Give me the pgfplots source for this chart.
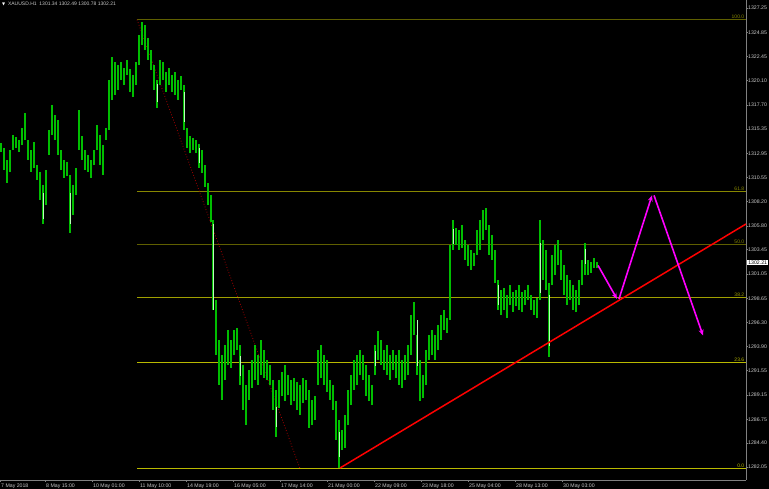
\documentclass[border=0pt]{standalone}
\usepackage{pgfplots}
\pgfplotsset{compat=1.18}
\usepackage{pgfplotstable}
\usepackage{fontspec}
\setmainfont{Liberation Sans}
\newfontfamily\symfont{DejaVu Sans}
\usetikzlibrary{arrows.meta}
\definecolor{bar}{RGB}{0,190,0}
\definecolor{lightbar}{RGB}{185,255,185}
\definecolor{axgray}{RGB}{128,128,128}
\definecolor{lbl}{RGB}{200,200,200}
\definecolor{fibA}{RGB}{95,95,0}
\definecolor{fibB}{RGB}{135,135,0}
\definecolor{fibC}{RGB}{160,160,0}
\definecolor{fibD}{RGB}{185,185,0}
\definecolor{dred}{RGB}{170,0,0}
\definecolor{mag}{RGB}{255,0,255}

\pgfplotstableread{
x lo hi
1 1313.1 1314.0
4 1311.3 1313.5
7 1310.0 1312.3
10 1311.1 1313.3
13 1313.3 1314.7
16 1313.5 1314.5
19 1313.1 1314.3
22 1313.8 1315.4
25 1314.3 1316.9
28 1312.3 1314.3
31 1311.1 1313.3
34 1311.5 1314.1
37 1310.3 1311.8
40 1308.3 1311.1
43 1306.0 1309.8
46 1307.9 1311.3
49 1312.8 1315.2
52 1314.7 1317.7
55 1314.3 1316.7
58 1312.8 1316.2
61 1311.3 1313.3
64 1310.5 1312.3
67 1310.7 1312.1
70 1305.1 1310.8
73 1306.9 1309.8
76 1308.8 1311.5
79 1313.3 1317.2
82 1312.3 1314.7
85 1311.3 1313.3
88 1311.1 1312.8
91 1310.5 1312.3
94 1311.8 1313.3
97 1313.3 1315.7
100 1311.8 1314.7
103 1310.8 1313.8
106 1314.3 1315.4
109 1315.2 1320.2
112 1318.2 1322.4
115 1318.7 1321.9
118 1319.2 1321.6
121 1320.2 1321.9
124 1319.7 1321.3
127 1320.7 1322.1
130 1319.0 1321.2
133 1318.5 1320.7
136 1319.7 1321.9
139 1321.6 1324.6
142 1323.6 1325.9
145 1323.1 1325.6
148 1322.1 1324.3
151 1321.2 1323.1
154 1319.2 1321.6
157 1317.4 1320.2
160 1319.7 1322.1
163 1320.2 1321.9
166 1319.0 1321.0
169 1319.7 1321.3
172 1319.0 1320.7
175 1318.7 1320.9
178 1318.2 1320.2
181 1319.2 1320.6
184 1315.2 1319.7
187 1313.5 1315.4
190 1313.0 1314.7
193 1313.3 1314.5
196 1313.0 1314.3
199 1311.5 1313.9
202 1311.0 1313.3
205 1309.6 1311.8
208 1307.9 1310.0
211 1306.2 1308.8
213 1297.5 1306.4
216 1293.1 1298.5
219 1290.1 1294.6
222 1288.6 1293.1
225 1290.6 1294.1
228 1292.1 1295.5
231 1291.8 1294.6
234 1293.1 1295.5
237 1293.6 1295.7
240 1290.1 1294.1
243 1287.7 1292.1
246 1286.2 1290.1
249 1288.6 1291.6
252 1289.8 1292.6
255 1290.6 1294.1
258 1290.1 1293.1
261 1291.1 1294.6
264 1290.8 1293.6
267 1290.6 1292.6
270 1290.1 1292.1
273 1287.7 1290.6
276 1285.0 1289.6
279 1287.9 1290.6
282 1289.1 1291.4
285 1288.6 1292.1
288 1289.1 1291.1
291 1288.2 1290.6
294 1288.6 1290.8
297 1287.7 1290.4
300 1287.2 1290.1
303 1288.4 1290.8
306 1288.6 1290.6
309 1285.9 1289.6
312 1286.2 1288.6
315 1286.7 1289.1
318 1290.1 1293.6
321 1290.8 1294.1
324 1290.1 1293.1
327 1289.4 1292.6
330 1288.6 1290.6
333 1287.7 1290.1
336 1284.7 1288.6
339 1282.0 1286.7
342 1283.7 1285.7
345 1283.9 1287.2
348 1286.2 1289.6
351 1288.2 1291.1
354 1289.6 1292.6
357 1290.1 1293.1
360 1291.1 1293.6
363 1290.6 1293.1
366 1289.1 1292.1
369 1288.6 1291.1
372 1288.2 1290.1
375 1291.1 1294.1
378 1292.6 1295.5
381 1292.1 1294.6
384 1291.6 1293.6
387 1291.1 1294.1
390 1290.6 1293.1
393 1291.6 1293.6
396 1290.8 1293.1
399 1290.1 1293.6
402 1289.8 1292.6
405 1290.6 1293.1
408 1291.1 1294.1
411 1293.1 1297.0
414 1295.0 1298.3
417 1291.1 1295.0
420 1288.6 1292.6
423 1288.8 1291.1
426 1290.1 1293.6
429 1292.6 1295.0
432 1293.1 1295.5
435 1292.6 1295.0
438 1293.6 1296.0
441 1294.6 1297.0
444 1295.5 1297.5
447 1295.3 1296.7
450 1296.5 1303.9
453 1303.4 1306.4
456 1303.9 1305.6
459 1303.4 1305.4
462 1303.6 1305.9
465 1302.4 1304.4
468 1301.9 1303.9
471 1301.5 1303.4
474 1301.9 1303.1
477 1302.9 1305.4
480 1303.4 1306.4
483 1304.4 1307.4
486 1305.4 1307.6
489 1302.9 1305.9
492 1302.4 1304.9
495 1300.2 1303.4
498 1297.5 1300.5
501 1297.0 1299.5
504 1297.5 1299.7
507 1296.7 1299.0
510 1298.0 1300.0
513 1297.3 1299.3
516 1297.9 1299.5
519 1297.5 1300.0
522 1297.3 1299.3
525 1298.0 1299.5
528 1298.5 1300.0
531 1297.5 1299.0
534 1297.0 1298.5
537 1296.7 1298.7
540 1298.5 1306.4
543 1300.5 1304.4
546 1299.5 1303.4
549 1292.9 1300.2
552 1300.0 1302.9
555 1301.0 1303.9
558 1301.9 1304.4
561 1300.5 1303.4
564 1299.0 1301.9
567 1298.0 1301.0
570 1298.5 1300.5
573 1297.5 1300.0
576 1297.3 1299.5
579 1298.0 1300.5
582 1300.0 1302.4
585 1301.0 1304.1
588 1301.0 1302.4
591 1301.2 1302.2
594 1301.6 1302.6
597 1301.6 1302.2
}\bars

\pgfplotstableread{
x lo hi
43 1306.5 1309.0
70 1306.0 1309.0
157 1318.0 1319.8
184 1316.0 1319.0
199 1312.0 1313.5
213 1297.5 1306.0
240 1291.0 1293.0
276 1286.0 1288.0
339 1283.0 1285.5
375 1292.0 1293.5
417 1292.0 1296.5
453 1304.0 1305.5
498 1298.0 1300.0
540 1299.2 1304.1
549 1294.0 1299.0
585 1302.0 1303.5
}\lightbars

\begin{document}
\begin{tikzpicture}[x=1pt,y=1pt]
\fill[black] (0,-9) rectangle (769,480);
\path[use as bounding box] (0,-9) rectangle (769,480);
\begin{axis}[
  at={(0pt,0pt)}, anchor=south west,
  width=746pt, height=480pt, scale only axis,
  xmin=0, xmax=746, ymin=1280.77, ymax=1328.04,
  axis x line*=bottom, axis y line*=right,
  axis line style={draw=axgray, line width=0.8pt},
  clip=false,
  tick align=outside, major tick length=2pt,
  tick style={draw=axgray, line width=0.6pt},
  /pgf/number format/assume math mode=true,
  xtick={0,45,92,139,186,233,280,327,374,421,468,515,562},
  xticklabels={7 May 2018, 8 May 15:00, 10 May 01:00, 11 May 10:00, 14 May 19:00, 16 May 05:00, 17 May 14:00, 21 May 00:00, 22 May 09:00, 23 May 18:00, 25 May 04:00, 28 May 13:00, 30 May 03:00},
  xticklabel style={font=\fontsize{5.2}{6}\selectfont, text=lbl, anchor=north west, inner sep=0pt, xshift=1pt, yshift=-1.5pt},
  ytick={1327.25,1324.85,1322.45,1320.10,1317.70,1315.35,1312.95,1310.55,1308.20,1305.80,1303.45,1301.05,1298.65,1296.30,1293.90,1291.55,1289.15,1286.75,1284.40,1282.05},
  yticklabels={1327.25,1324.85,1322.45,1320.10,1317.70,1315.35,1312.95,1310.55,1308.20,1305.80,1303.45,1301.05,1298.65,1296.30,1293.90,1291.55,1289.15,1286.75,1284.40,1282.05},
  yticklabel style={font=\fontsize{5.2}{6}\selectfont, text=lbl, anchor=west, inner sep=0pt, xshift=0pt},
]
% Fibonacci levels
\addplot [draw=fibA, line width=0.9pt] coordinates {(137,1326.1) (746,1326.1)};
\addplot [draw=fibB, line width=0.9pt] coordinates {(137,1309.22) (746,1309.22)};
\addplot [draw=fibA, line width=0.9pt] coordinates {(137,1304.0) (746,1304.0)};
\addplot [draw=fibC, line width=0.9pt] coordinates {(137,1298.78) (746,1298.78)};
\addplot [draw=fibD, line width=0.9pt] coordinates {(137,1292.33) (746,1292.33)};
\addplot [draw=fibD, line width=0.9pt] coordinates {(137,1281.9) (746,1281.9)};
\node[anchor=south east, inner sep=0.6pt, text=fibB, font=\fontsize{5}{6}\selectfont] at (axis cs:745,1326.1) {100.0};
\node[anchor=south east, inner sep=0.6pt, text=fibB, font=\fontsize{5}{6}\selectfont] at (axis cs:745,1309.22) {61.8};
\node[anchor=south east, inner sep=0.6pt, text=fibB, font=\fontsize{5}{6}\selectfont] at (axis cs:745,1304.0) {50.0};
\node[anchor=south east, inner sep=0.6pt, text=fibC, font=\fontsize{5}{6}\selectfont] at (axis cs:745,1298.78) {38.2};
\node[anchor=south east, inner sep=0.6pt, text=fibD, font=\fontsize{5}{6}\selectfont] at (axis cs:745,1292.33) {23.6};
\node[anchor=south east, inner sep=0.6pt, text=fibD, font=\fontsize{5}{6}\selectfont] at (axis cs:745,1281.9) {0.0};
% fib base line
\addplot [draw=dred, line width=0.8pt, dotted] coordinates {(137,1326.1) (300,1281.9)};
% price bars
\addplot [draw=none, mark=none, error bars/.cd, y dir=both, y explicit, error mark=none,
  error bar style={draw=bar, line width=2.5pt}]
  table [x=x, y expr={(\thisrow{lo}+\thisrow{hi})/2}, y error expr={(\thisrow{hi}-\thisrow{lo})/2}] {\bars};
\addplot [draw=none, mark=none, error bars/.cd, y dir=both, y explicit, error mark=none,
  error bar style={draw=lightbar, line width=1pt}]
  table [x=x, y expr={(\thisrow{lo}+\thisrow{hi})/2}, y error expr={(\thisrow{hi}-\thisrow{lo})/2}] {\lightbars};
% trend line
\addplot [draw=red, line width=1.5pt] coordinates {(340,1281.95) (746,1305.98)};
% projected path
\addplot [draw=mag, line width=1.6pt, -{Stealth[length=6pt,width=5pt]}] coordinates {(598,1301.9) (617,1298.6)};
\addplot [draw=mag, line width=1.6pt, -{Stealth[length=6pt,width=5pt]}] coordinates {(619,1298.6) (652,1308.8)};
\addplot [draw=mag, line width=1.6pt, -{Stealth[length=6pt,width=5pt]}] coordinates {(654,1308.8) (703,1295.0)};
% current price box
\node[anchor=west, fill=white, text=black, inner sep=0.6pt, font=\fontsize{5.2}{6}\selectfont, minimum width=21pt] at (axis cs:747,1302.21) {1302.21};
% header
\node[anchor=west, inner sep=0pt, text=lbl, font=\fontsize{5}{6}\selectfont] at (axis cs:2,1327.65) {{\symfont\fontsize{4}{5}\selectfont\textcolor{white}{▼}}\ \ XAUUSD.H1\ \ 1301.34 1302.49 1300.78 1302.21};
\end{axis}
\end{tikzpicture}
\end{document}
